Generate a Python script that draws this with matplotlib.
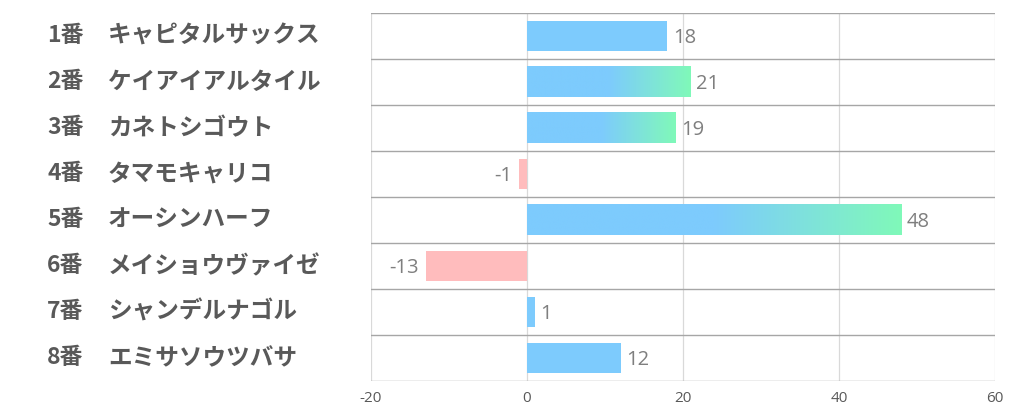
import matplotlib
matplotlib.use("Agg")
import matplotlib.pyplot as plt
import matplotlib.transforms as mtransforms
import numpy as np
from matplotlib.colors import to_rgb

plt.rcParams['font.family'] = ['Noto Sans CJK JP', 'DejaVu Sans']

numbers = ["1番", "2番", "3番", "4番", "5番", "6番", "7番", "8番"]
horses = ["キャピタルサックス", "ケイアイアルタイル", "カネトシゴウト", "タマモキャリコ",
          "オーシンハーフ", "メイショウヴァイゼ", "シャンデルナゴル", "エミサソウツバサ"]
values = [18, 21, 19, -1, 48, -13, 1, 12]
xticks = [-20, 0, 20, 40, 60]

BLUE = "#7dcbfd"
GREEN = "#80f9b9"
PINK = "#ffbcbd"

W, H = 1022, 417
fig = plt.figure(figsize=(W / 100, H / 100), dpi=100)
ax = fig.add_axes([371 / W, 1 - 381 / H, (995 - 371) / W, (381 - 13) / H])

n = len(values)
ypos = np.arange(n)
bar_h = 0.67
top3 = sorted(values, reverse=True)[:3]

N = 256
t = np.linspace(0, 1, N)
w = np.clip((t - 0.5) / 0.5, 0, 1)
b = np.array(to_rgb(BLUE)); g = np.array(to_rgb(GREEN))
grad = (1 - w)[:, None] * b + w[:, None] * g
grad_img = grad[None, :, :]

lab_font = ['Open Sans', 'DejaVu Sans']
for y, v in zip(ypos, values):
    if v >= 0:
        if v in top3:
            ax.imshow(grad_img, extent=[0, v, y + bar_h / 2, y - bar_h / 2],
                      aspect='auto', zorder=2, interpolation='bilinear')
        else:
            ax.barh(y, v, height=bar_h, color=BLUE, zorder=2)
        ax.annotate(str(v), xy=(v, y), xytext=(4, -1.5), textcoords='offset points',
                    va='center', ha='left', fontsize=14.5, color='#7f7f7f',
                    family=lab_font)
    else:
        ax.barh(y, v, height=bar_h, color=PINK, zorder=2)
        ax.annotate(str(v), xy=(v, y), xytext=(-5, -1.5), textcoords='offset points',
                    va='center', ha='right', fontsize=14.5, color='#7f7f7f',
                    family=lab_font)

ax.set_xlim(-20, 60)
ax.set_ylim(n - 0.5, -0.5)

for xv in xticks:
    ax.axvline(xv, color='#d9d9d9', lw=0.9, zorder=1)
for k in range(n + 1):
    ax.axhline(k - 0.5, color='#a6a6a6', lw=1.0, zorder=3)

for s in ax.spines.values():
    s.set_visible(False)

ax.set_xticks(xticks)
ax.set_xticklabels([str(x) for x in xticks], fontsize=11, color='#595959',
                   family=lab_font)
ax.tick_params(axis='x', length=0, pad=7)
ax.set_yticks([])

trans = mtransforms.blended_transform_factory(fig.transFigure, ax.transData)
for y, num, name in zip(ypos, numbers, horses):
    ax.text(47 / W, y, num, transform=trans, ha='left', va='center',
            fontsize=16.5, fontweight='bold', color='#595959')
    ax.text(108 / W, y, name, transform=trans, ha='left', va='center',
            fontsize=17, fontweight='bold', color='#595959')

fig.savefig("out.png", dpi=100)
